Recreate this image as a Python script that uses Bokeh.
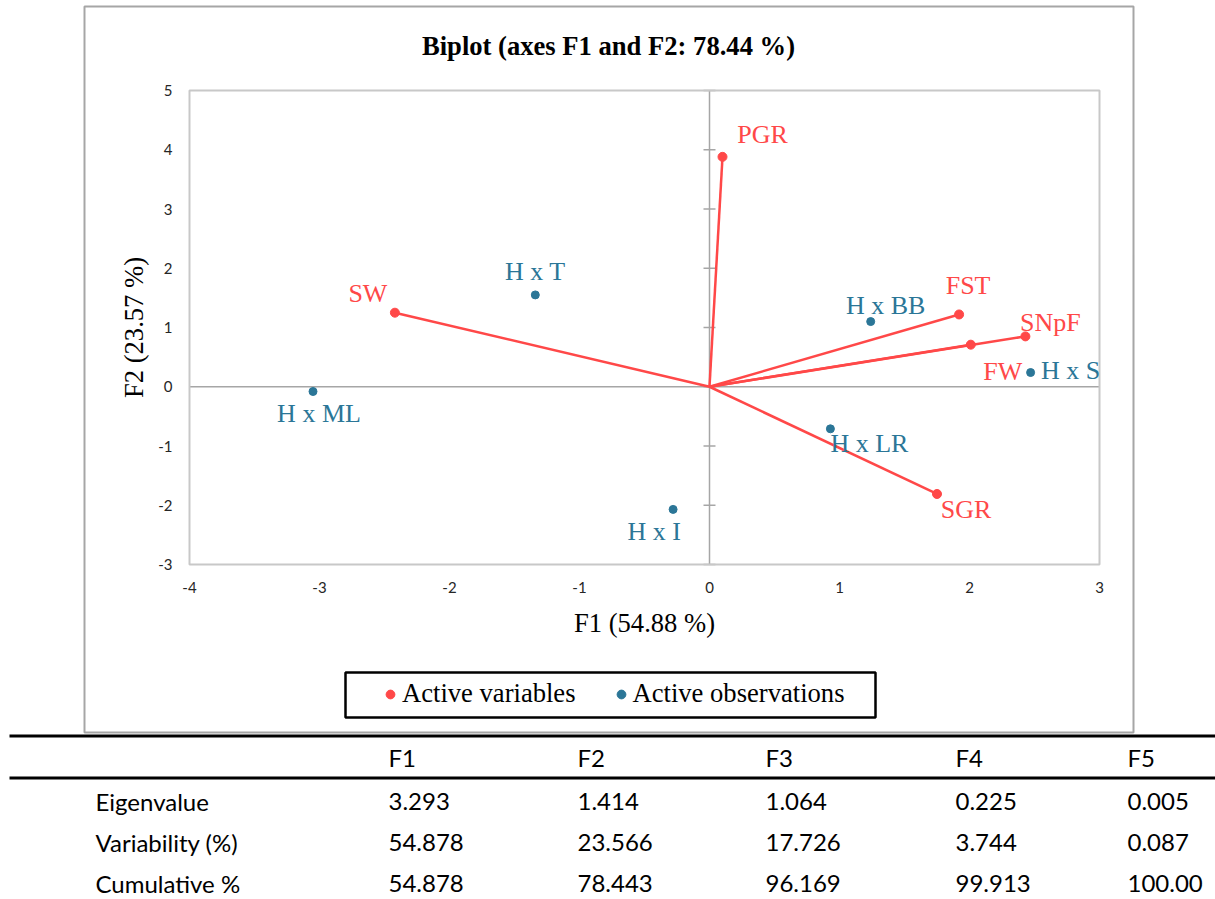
from bokeh.plotting import figure
from bokeh.models import (Range1d, FixedTicker, Label, LabelSet, ColumnDataSource,
                          BoxAnnotation, Legend, LegendItem, LinearAxis, PrintfTickFormatter)
from bokeh.embed import file_html
from bokeh.resources import INLINE
from bokeh.core.properties import value

# ---------------- data ----------------
var_names = ["PGR", "SW", "FST", "SNpF", "FW", "SGR"]
var_f1 = [0.10, -2.42, 1.92, 2.43, 2.01, 1.75]
var_f2 = [3.88, 1.25, 1.22, 0.85, 0.71, -1.81]

obs_names = ["H x T", "H x ML", "H x BB", "H x S", "H x LR", "H x I"]
obs_f1 = [-1.34, -3.05, 1.24, 2.47, 0.93, -0.28]
obs_f2 = [1.55, -0.08, 1.10, 0.24, -0.71, -2.07]

x_ticks = [-4, -3, -2, -1, 0, 1, 2, 3]
y_ticks = [-3, -2, -1, 0, 1, 2, 3, 4, 5]

title_text = "Biplot (axes F1 and F2: 78.44 %)"
x_label = "F1 (54.88 %)"
y_label = "F2 (23.57 %)"
legend_labels = ["Active variables", "Active observations"]

factors = ["F1", "F2", "F3", "F4", "F5"]
row_names = ["Eigenvalue", "Variability (%)", "Cumulative %"]
eigenvalue = ["3.293", "1.414", "1.064", "0.225", "0.005"]
variability = ["54.878", "23.566", "17.726", "3.744", "0.087"]
cumulative = ["54.878", "78.443", "96.169", "99.913", "100.00"]

# ---------------- style / layout ----------------
RED = "#FF4848"
BLUE = "#2B7697"
GRAY = "#A6A6A6"
SERIF = "Liberation Serif"
SANS = "Lato"

# data-label offsets in pixels (dx right, dy up)
var_dx = [40, -27, 9, 25, 32, 29]
var_dy = [22, 19, 29, 14, -27, -16]
obs_dx = [0, 6, 15, 40, 39, -19]
obs_dy = [23, -22, 16, 2, -15, -22]

# page geometry (pixels of the 1215x899 picture)
W, H = 1215, 899
PAGE_L, PAGE_T = 0, 0
PAGE_R, PAGE_B = PAGE_L + W, PAGE_T + H
AREA_L, AREA_R, AREA_T, AREA_B = 189, 1099, 90, 564   # plot area

XMIN, XMAX = x_ticks[0], x_ticks[-1]
YMIN, YMAX = y_ticks[0], y_ticks[-1]
sx = (AREA_R - AREA_L) / (XMAX - XMIN)
sy = (AREA_B - AREA_T) / (YMAX - YMIN)

p = figure(width=W, height=H,
           x_range=Range1d(XMIN - (AREA_L - PAGE_L) / sx, XMAX + (PAGE_R - AREA_R) / sx),
           y_range=Range1d(YMIN - (PAGE_B - AREA_B) / sy, YMAX + (AREA_T - PAGE_T) / sy),
           output_backend="svg", toolbar_location=None, title=None,
           x_axis_location=None, y_axis_location=None,
           min_border=0, min_border_left=0, min_border_right=0,
           min_border_top=0, min_border_bottom=0)
p.extra_x_ranges = {"page": Range1d(PAGE_L, PAGE_R)}
p.extra_y_ranges = {"page": Range1d(PAGE_B, PAGE_T)}
p.background_fill_color = "white"
p.border_fill_color = "white"
p.outline_line_color = None
p.grid.visible = False

xaxis = LinearAxis(fixed_location=YMIN, bounds=(XMIN, XMAX), ticker=FixedTicker(ticks=x_ticks),
                   formatter=PrintfTickFormatter(format="%d"), axis_label=x_label)
yaxis = LinearAxis(fixed_location=XMIN, bounds=(YMIN, YMAX), ticker=FixedTicker(ticks=y_ticks),
                   formatter=PrintfTickFormatter(format="%d"), axis_label=y_label)
for ax in (xaxis, yaxis):
    ax.axis_line_color = None
    ax.major_tick_line_color = None
    ax.minor_tick_line_color = None
    ax.major_tick_out = 0
    ax.major_tick_in = 0
    ax.major_label_text_font = SANS
    ax.major_label_text_font_size = "15px"
    ax.major_label_text_color = "#262626"
    ax.axis_label_text_font = SERIF
    ax.axis_label_text_font_size = "26.6px"
    ax.axis_label_text_font_style = "normal"
    ax.axis_label_text_color = "black"
xaxis.major_label_standoff = 17
xaxis.axis_label_standoff = 12
yaxis.major_label_standoff = 17
yaxis.axis_label_standoff = 6
p.add_layout(xaxis, "below")
p.add_layout(yaxis, "left")

# outer chart border and plot-area outline
p.add_layout(BoxAnnotation(left=84, right=1133, top=6, bottom=732,
                           x_range_name="page", y_range_name="page",
                           fill_color=None, line_color="#A6A6A6", line_alpha=1.0,
                           line_width=2))
p.add_layout(BoxAnnotation(left=XMIN, right=XMAX, bottom=YMIN, top=YMAX,
                           fill_color=None, line_color="#C8C8C8", line_alpha=1.0,
                           line_width=2))

# zero axes with ticks on the vertical one
p.segment(x0=[XMIN, 0], y0=[0, YMIN], x1=[XMAX, 0], y1=[0, YMAX],
          line_color=GRAY, line_width=1.5)
p.scatter(x=[0] * len(y_ticks), y=y_ticks, marker="dash", size=12,
          line_color=GRAY, line_width=1.5)

# variable vectors and points
p.segment(x0=[0] * len(var_f1), y0=[0] * len(var_f2), x1=var_f1, y1=var_f2,
          line_color=RED, line_width=2.5)
r_var = p.scatter(var_f1, var_f2, size=9, color=RED)
r_obs = p.scatter(obs_f1, obs_f2, size=8, color=BLUE)

var_src = ColumnDataSource(dict(x=var_f1, y=var_f2, t=var_names, dx=var_dx, dy=var_dy))
obs_src = ColumnDataSource(dict(x=obs_f1, y=obs_f2, t=obs_names, dx=obs_dx, dy=obs_dy))
for src, col in ((var_src, RED), (obs_src, BLUE)):
    p.add_layout(LabelSet(x="x", y="y", text="t", x_offset="dx", y_offset="dy", source=src,
                          text_font=value(SERIF), text_font_size="26px", text_color=col,
                          text_align="center", text_baseline="middle"))

# title
p.add_layout(Label(x=608, y=45, x_range_name="page", y_range_name="page", text=title_text,
                   text_font=SERIF, text_font_size="26.6px", text_font_style="bold",
                   text_align="center", text_baseline="middle", text_color="black"))

# legend
p.add_layout(BoxAnnotation(left=345, right=875, top=672, bottom=717,
                           x_range_name="page", y_range_name="page",
                           fill_color=None, line_color="black", line_alpha=1.0,
                           line_width=2.5))
legend = Legend(items=[LegendItem(label=legend_labels[0], renderers=[r_var]),
                       LegendItem(label=legend_labels[1], renderers=[r_obs])],
                location=(379 - PAGE_L, PAGE_B - 709), orientation="horizontal",
                padding=0, margin=0, spacing=34, glyph_width=22, glyph_height=22,
                label_standoff=1, border_line_color=None, background_fill_alpha=0,
                label_text_font=SERIF, label_text_font_size="26.6px", label_text_color="black")
p.add_layout(legend, "center")

# ---------------- table (page coordinates) ----------------
col_x = [388, 577, 765, 955, 1127]
row_x = 95
header_y = 757
row_y = [801, 842, 883]

p.segment(x0=[9, 9], y0=[735.5, 777.5], x1=[PAGE_R, PAGE_R], y1=[735.5, 777.5],
          x_range_name="page", y_range_name="page", line_color="black", line_width=3)
tkw = dict(x_range_name="page", y_range_name="page", text_font=value(SANS),
           text_font_size="24px", text_color="black", text_baseline="middle",
           text_align="left")
p.text(x=col_x, y=[header_y] * len(factors), text=factors, **tkw)
p.text(x=[row_x] * len(row_names), y=row_y, text=row_names, **tkw)
for vals, yy in zip([eigenvalue, variability, cumulative], row_y):
    p.text(x=col_x, y=[yy] * len(vals), text=vals, **tkw)

open("out.html", "w").write(file_html(p, INLINE))
